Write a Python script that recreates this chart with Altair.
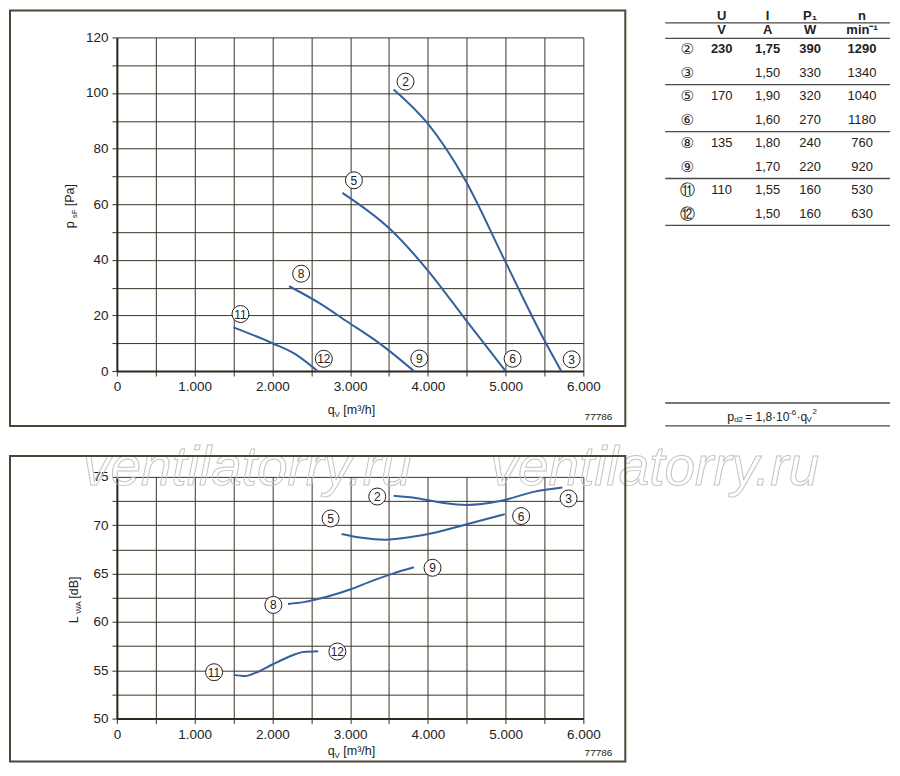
import altair as alt
import pandas as pd

FONT = "Liberation Sans"
INK = "#222222"
GRID = "#3b3326"
FRAME = "#4d4536"
BLUE = "#33609f"

# ---------------- data ----------------
qv_ticks = list(range(0, 6001, 500))
psf_ticks = list(range(0, 121, 10))
lwa_ticks = [50, 52.5, 55, 57.5, 60, 62.5, 65, 67.5, 70, 72.5, 75]

# static pressure curves  (q_V [m3/h], p_sF [Pa])
psf_23_q = [3560, 3990, 4480, 4975, 5490, 5715]
psf_23_p = [101.3, 89.3, 68.7, 40.6, 11.5, 0]
psf_56_q = [2900, 3520, 3990, 4485, 5000]
psf_56_p = [64.1, 50.9, 36.5, 18.5, 0]
psf_89_q = [2215, 2600, 2960, 3400, 3820]
psf_89_p = [30.5, 24.5, 17.8, 9.5, 0]
psf_1112_q = [1500, 2000, 2300, 2580]
psf_1112_p = [15.7, 10.0, 6.0, 0]

# sound power curves  (q_V [m3/h], L_WA [dB])
lwa_23_q = [3560, 3860, 4200, 4500, 4930, 5360, 5730]
lwa_23_l = [73.05, 72.8, 72.3, 72.1, 72.5, 73.45, 73.9]
lwa_56_q = [2890, 3150, 3450, 3800, 4100, 4500, 4990]
lwa_56_l = [69.1, 68.7, 68.5, 68.8, 69.25, 70.1, 71.15]
lwa_89_q = [2200, 2400, 2700, 3000, 3300, 3550, 3820]
lwa_89_l = [61.86, 62.05, 62.6, 63.35, 64.3, 65.0, 65.65]
lwa_1112_q = [1500, 1650, 1800, 2000, 2200, 2400, 2590]
lwa_1112_l = [54.55, 54.4, 54.8, 55.6, 56.35, 56.9, 56.97]

# operating point labels
point_names = ["2", "3", "5", "6", "8", "9", "11", "12"]
psf_label_q = [3713, 5850, 3049, 5090, 2370, 3890, 1590, 2662]
psf_label_p = [104.1, 4.2, 68.6, 4.4, 35.0, 4.5, 20.5, 4.4]
lwa_label_q = [3349, 5810, 2749, 5200, 2013, 4060, 1250, 2836]
lwa_label_l = [72.97, 72.77, 70.7, 70.95, 61.76, 65.6, 54.8, 56.94]

# table
tbl_marks = ["②", "③", "⑤", "⑥", "⑧", "⑨", "⑪", "⑫"]
tbl_U = ["230", "", "170", "", "135", "", "110", ""]
tbl_I = ["1,75", "1,50", "1,90", "1,60", "1,80", "1,70", "1,55", "1,50"]
tbl_P1 = ["390", "330", "320", "270", "240", "220", "160", "160"]
tbl_n = ["1290", "1340", "1040", "1180", "760", "920", "530", "630"]
tbl_head = ["U", "I", "P₁", "n"]
tbl_unit = ["V", "A", "W", "min⁻¹"]
tbl_group_lines = [1.5, 3.5, 5.5, 7.5]

ONE = pd.DataFrame({"k": [0]})


def curves_df(pairs):
    rows = []
    for name, xs, ys in pairs:
        for x, y in zip(xs, ys):
            rows.append({"curve": name, "q": x, "v": y})
    return pd.DataFrame(rows)


psf_df = curves_df([("2-3", psf_23_q, psf_23_p), ("5-6", psf_56_q, psf_56_p),
                    ("8-9", psf_89_q, psf_89_p), ("11-12", psf_1112_q, psf_1112_p)])
lwa_df = curves_df([("2-3", lwa_23_q, lwa_23_l), ("5-6", lwa_56_q, lwa_56_l),
                    ("8-9", lwa_89_q, lwa_89_l), ("11-12", lwa_1112_q, lwa_1112_l)])
psf_lab = pd.DataFrame({"name": point_names, "q": psf_label_q, "v": psf_label_p})
lwa_lab = pd.DataFrame({"name": point_names, "q": lwa_label_q, "v": lwa_label_l})

cells = []
for i in range(len(tbl_marks)):
    for c, col in enumerate([tbl_U, tbl_I, tbl_P1, tbl_n], start=1):
        if col[i]:
            cells.append({"row": i, "col": c, "txt": col[i], "bold": i == 0})
cells_df = pd.DataFrame(cells)
head_df = pd.DataFrame({"col": [1, 2, 3, 4], "txt": tbl_head})
unit_df = pd.DataFrame({"col": [1, 2, 3, 4], "txt": tbl_unit})
marks_df = pd.DataFrame({"row": list(range(len(tbl_marks))), "col": [0] * len(tbl_marks), "txt": tbl_marks})
lines_df = pd.DataFrame({"row": tbl_group_lines})


# ---------------- helpers ----------------
def x_enc():
    return alt.X("q:Q", scale=alt.Scale(domain=[0, 6000], nice=False, zero=False),
                 axis=alt.Axis(values=qv_ticks, grid=True, gridColor=GRID, gridWidth=1, gridOpacity=1,
                               tickColor=GRID, tickSize=5, tickWidth=1, domainColor="#2e271c", domainWidth=2,
                               labelExpr="datum.value % 1000 == 0 ? (datum.value == 0 ? '0' : replace(format(datum.value, ','), ',', '.')) : ''",
                               labelFont=FONT, labelFontSize=13.5, labelColor=INK, labelPadding=4,
                               labelFlush=False, labelOverlap=False, title=None))


def y_enc(dom, ticks, step):
    expr = f"datum.value % {step} == 0 ? format(datum.value, 'd') : ''"
    return alt.Y("v:Q", scale=alt.Scale(domain=dom, nice=False, zero=False),
                 axis=alt.Axis(values=ticks, grid=True, gridColor=GRID, gridWidth=1, gridOpacity=1,
                               tickColor=GRID, tickSize=5, tickWidth=1, domainColor="#2e271c", domainWidth=2,
                               labelExpr=expr,
                               labelFont=FONT, labelFontSize=13.5, labelColor=INK, labelPadding=4,
                               labelOverlap=False, title=None))


def txt(s, x, y, size=12.5, angle=0, align="left", weight="normal", font=FONT):
    return alt.Chart(ONE).mark_text(text=s, font=font, fontSize=size, angle=angle, align=align,
                                    baseline="alphabetic", fontWeight=weight, color=INK).encode(
        x=alt.value(x), y=alt.value(y))


def frame(x1, x2, y1, y2):
    return alt.Chart(ONE).mark_rect(fillOpacity=0, stroke=FRAME, strokeWidth=2).encode(
        x=alt.value(x1), x2=alt.value(x2), y=alt.value(y1), y2=alt.value(y2))


def plot_layers(df, lab, dom, ticks, step):
    ye = y_enc(dom, ticks, step)
    lines = alt.Chart(df).mark_line(color=BLUE, strokeWidth=2, interpolate="monotone").encode(
        x=x_enc(), y=ye, detail="curve:N")
    circ = alt.Chart(lab).mark_point(shape="circle", filled=True, fill="white", stroke=INK, strokeWidth=1,
                                     size=289, opacity=1, fillOpacity=1, strokeOpacity=1).encode(x=x_enc(), y=ye)
    num = alt.Chart(lab).mark_text(font=FONT, fontSize=12, color=INK, align="center", baseline="middle",
                                   dy=0.5).encode(x=x_enc(), y=ye, text="name:N")
    return [lines, circ, num]


def x_title(base):
    return [txt("q", 211, base), txt("V", 217.9, base + 3, size=8), txt("[m³/h]", 226.7, base)]


# ---------------- top chart ----------------
top = alt.layer(
    *plot_layers(psf_df, psf_lab, [0, 120], psf_ticks, 20),
    txt("p", -42.5, 191, angle=270),
    txt("sF", -39.5, 181, size=8, angle=270),
    txt("[Pa]", -42.5, 169, angle=270),
    *x_title(377),
    txt("77786", 496, 383, size=10, align="right"),
    frame(-107, 509, -27, 389),
).properties(width=467, height=334)

# ---------------- table ----------------
TW = 225
tx = alt.Scale(domain=[0, 1, 2, 3, 4], range=[22, 56.5, 102.5, 145, 197])
ty = alt.Scale(domain=[0, 7], range=[12, 176.5], nice=False, zero=False)
xcol = alt.X("col:Q", scale=tx, axis=None)
yrow = alt.Y("row:Q", scale=ty, axis=None)

t_norm = alt.Chart(cells_df).transform_filter("!datum.bold").mark_text(
    font=FONT, fontSize=13, color=INK, align="center", baseline="middle").encode(x=xcol, y=yrow, text="txt:N")
t_bold = alt.Chart(cells_df).transform_filter("datum.bold").mark_text(
    font=FONT, fontSize=13, fontWeight="bold", color=INK, align="center", baseline="middle").encode(
    x=xcol, y=yrow, text="txt:N")
t_head = alt.Chart(head_df).mark_text(
    font=FONT, fontSize=13, fontWeight="bold", color=INK, align="center", baseline="middle").encode(
    x=xcol, y=alt.value(-21.5), text="txt:N")
t_unit = alt.Chart(unit_df).mark_text(
    font=FONT, fontSize=13, fontWeight="bold", color=INK, align="center", baseline="middle").encode(
    x=xcol, y=alt.value(-7), text="txt:N")
t_marks = alt.Chart(marks_df).mark_text(
    font="DejaVu Sans", fontSize=15, color=INK, align="center", baseline="middle").encode(
    x=xcol, y=yrow, text="txt:N")
t_lines = alt.Chart(lines_df).mark_rule(color="#4a4a4a", strokeWidth=1.3).encode(
    y=yrow, x=alt.value(0), x2=alt.value(TW))
fixed_lines = [alt.Chart(ONE).mark_rule(color="#4a4a4a", strokeWidth=1.3).encode(
    y=alt.value(yy), x=alt.value(0), x2=alt.value(TW)) for yy in (-14.5, 1, 366, 389)]
fb = 384
fx = 62
formula = [
    txt("p", fx, fb, size=12.5),
    txt("d2", fx + 7.0, fb + 1.5, size=8),
    txt("= 1,8·10", fx + 18, fb, size=12),
    txt("-6", fx + 62, fb - 5.5, size=8),
    txt("·q", fx + 69.5, fb, size=12),
    txt("V", fx + 79.5, fb + 1.5, size=8),
    txt("2", fx + 85.5, fb - 7, size=8),
]
table = alt.layer(t_lines, *fixed_lines, t_marks, t_norm, t_bold, t_head, t_unit, *formula).properties(
    width=TW, height=334)

# ---------------- bottom chart ----------------
wm = dict(font=FONT, fontSize=55, fontStyle="italic", fillOpacity=0, stroke="#c4c4c4", strokeWidth=1,
          align="left", baseline="alphabetic")
bottom = alt.layer(
    *plot_layers(lwa_df, lwa_lab, [50, 75], lwa_ticks, 5),
    alt.Chart(ONE).mark_text(text="ventilatorry.ru", **wm).encode(x=alt.value(-34), y=alt.value(8)),
    alt.Chart(ONE).mark_text(text="ventilatorry.ru", **wm).encode(x=alt.value(374), y=alt.value(8)),
    txt("L", -39, 146.5, angle=270),
    txt("WA", -36, 137, size=8, angle=270),
    txt("[dB]", -39, 122, angle=270),
    *x_title(278),
    txt("77786", 496, 279, size=10, align="right"),
    frame(-107, 509, -21, 285),
).properties(width=467, height=242)

chart = alt.concat(top, table, bottom, columns=2, spacing={"row": 106, "column": 82},
                   bounds="flush", align="each").properties(
    padding=0, background="white").configure_view(stroke="transparent")

chart.save("out.html", embed_options={"renderer": "svg", "actions": False})
